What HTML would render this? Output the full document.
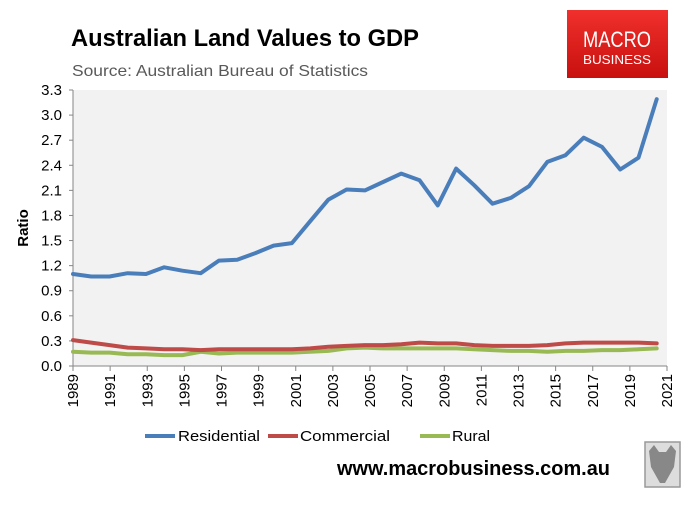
<!DOCTYPE html>
<html><head><meta charset="utf-8"><style>
body{margin:0;background:#fff;}
svg text{font-family:"Liberation Sans",sans-serif;}
</style></head><body>
<svg width="692" height="501" viewBox="0 0 692 501" xmlns="http://www.w3.org/2000/svg">
<text x="71" y="46" font-size="24" font-weight="bold" fill="#000" textLength="348" lengthAdjust="spacingAndGlyphs">Australian Land Values to GDP</text>
<text x="72" y="76" font-size="16" fill="#595959" textLength="296" lengthAdjust="spacingAndGlyphs">Source: Australian Bureau of Statistics</text>
<g>
<defs><linearGradient id="lg" x1="0" y1="0" x2="0" y2="1"><stop offset="0" stop-color="#f0302c"/><stop offset="1" stop-color="#c8100e"/></linearGradient></defs>
<rect x="567" y="10" width="101" height="68" fill="url(#lg)"/>
<text x="617" y="47" font-size="22" fill="#fff" text-anchor="middle" textLength="68" lengthAdjust="spacingAndGlyphs">MACRO</text>
<text x="617" y="64" font-size="13" fill="#fff" text-anchor="middle" textLength="68" lengthAdjust="spacingAndGlyphs">BUSINESS</text>
</g>
<rect x="73" y="90" width="594" height="276" fill="#f2f2f2"/>
<g id="yaxis"></g>
<g id="xaxis"></g>
<g id="series"></g>
<text transform="translate(28,228) rotate(-90)" font-size="15" font-weight="bold" text-anchor="middle">Ratio</text>
<g>
<g><line x1="145" y1="436" x2="175" y2="436" stroke="#4a7ebb" stroke-width="4"/><text x="178" y="441" font-size="15" fill="#000" textLength="82" lengthAdjust="spacingAndGlyphs">Residential</text></g>
<g><line x1="268" y1="436" x2="298" y2="436" stroke="#be4b48" stroke-width="4"/><text x="300" y="441" font-size="15" fill="#000" textLength="90" lengthAdjust="spacingAndGlyphs">Commercial</text></g>
<g><line x1="420" y1="436" x2="450" y2="436" stroke="#98b954" stroke-width="4"/><text x="452" y="441" font-size="15" fill="#000" textLength="38" lengthAdjust="spacingAndGlyphs">Rural</text></g>
</g>
<text x="337" y="475" font-size="20" font-weight="bold" fill="#000" textLength="273" lengthAdjust="spacingAndGlyphs">www.macrobusiness.com.au</text>
<g><rect x="645" y="442" width="35" height="45" fill="#ddd" stroke="#999" stroke-width="1.5"/><path d="M649 451 L654 445 L659 452 L666 452 L671 445 L676 451 L674 467 L665 483 L660 483 L651 467 Z" fill="#888"/></g>
</svg>
<script>
const categories=[1989,1990,1991,1992,1993,1994,1995,1996,1997,1998,1999,2000,2001,2002,2003,2004,2005,2006,2007,2008,2009,2010,2011,2012,2013,2014,2015,2016,2017,2018,2019,2020,2021];
const residential=[1.10,1.07,1.07,1.11,1.10,1.18,1.14,1.11,1.26,1.27,1.35,1.44,1.47,1.73,1.99,2.11,2.10,2.20,2.30,2.22,1.92,2.36,2.16,1.94,2.01,2.15,2.44,2.52,2.73,2.62,2.35,2.49,3.19];
const commercial=[0.31,0.28,0.25,0.22,0.21,0.20,0.20,0.19,0.20,0.20,0.20,0.20,0.20,0.21,0.23,0.24,0.25,0.25,0.26,0.28,0.27,0.27,0.25,0.24,0.24,0.24,0.25,0.27,0.28,0.28,0.28,0.28,0.27];
const rural=[0.17,0.16,0.16,0.14,0.14,0.13,0.13,0.17,0.15,0.16,0.16,0.16,0.16,0.17,0.18,0.21,0.22,0.21,0.21,0.21,0.21,0.21,0.20,0.19,0.18,0.18,0.17,0.18,0.18,0.19,0.19,0.20,0.21];
const yTicks=[0,0.3,0.6,0.9,1.2,1.5,1.8,2.1,2.4,2.7,3.0,3.3];
const xTickLabels=[1989,1991,1993,1995,1997,1999,2001,2003,2005,2007,2009,2011,2013,2015,2017,2019,2021];
const NS='http://www.w3.org/2000/svg';
const X0=73,X1=667,Y0=366,Y1=90,YMAX=3.3;
function y(v){return Y0-(v/YMAX)*(Y0-Y1);}
function xIdx(i){return X0+i*(656.7-X0)/(categories.length-1);}
function xYear(yr){return X0+(yr-1989)/(2021-1989)*(X1-X0);}
function mk(t,a,p){const e=document.createElementNS(NS,t);for(const k in a)e.setAttribute(k,a[k]);p.appendChild(e);return e;}
const ya=document.getElementById('yaxis');
mk('line',{x1:X0,y1:Y1,x2:X0,y2:Y0,stroke:'#868686','stroke-width':1},ya);
yTicks.forEach(v=>{
 mk('line',{x1:X0-4,y1:y(v),x2:X0,y2:y(v),stroke:'#868686'},ya);
 const t=mk('text',{x:62,y:y(v)+5,'font-size':15,'text-anchor':'end',fill:'#000'},ya);
 t.textContent=v.toFixed(1);
 
 
});
const xa=document.getElementById('xaxis');
mk('line',{x1:X0,y1:Y0,x2:X1,y2:Y0,stroke:'#868686'},xa);
xTickLabels.forEach(yr=>{
 const x=xYear(yr);
 mk('line',{x1:x,y1:Y0,x2:x,y2:Y0+5,stroke:'#868686'},xa);
 const t=mk('text',{transform:`translate(${x+5},374) rotate(-90)`,'font-size':15,'text-anchor':'end',fill:'#000'},xa);
 t.textContent=yr;
 
 
});
const sg=document.getElementById('series');
[[rural,'#98b954','rural-line'],[commercial,'#be4b48','commercial-line'],[residential,'#4a7ebb','residential-line']].forEach(([d,c,n])=>{
 const p=mk('polyline',{points:d.map((v,i)=>xIdx(i).toFixed(1)+','+y(v).toFixed(1)).join(' '),fill:'none',stroke:c,'stroke-width':4,'stroke-linejoin':'round','stroke-linecap':'round'},sg);
 
 
});
</script>
</body></html>
